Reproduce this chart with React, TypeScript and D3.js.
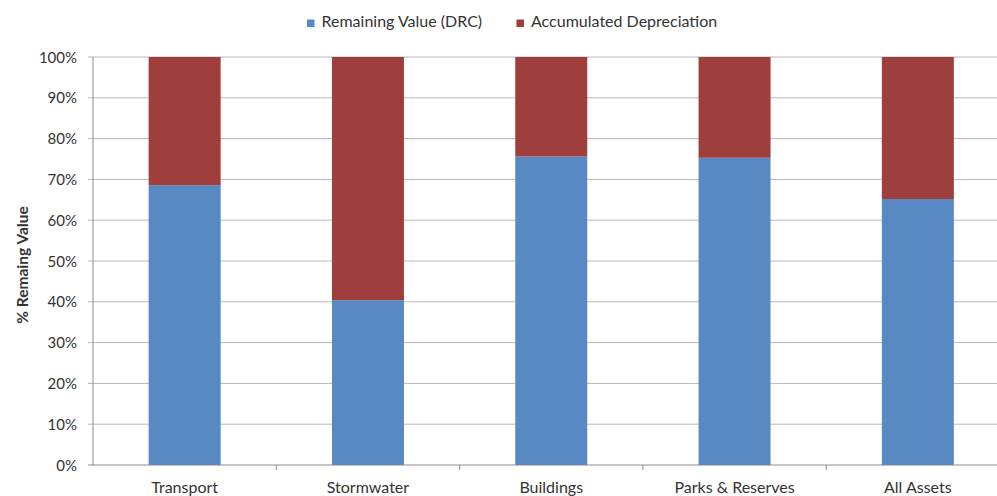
import React from 'react'
import * as d3 from 'd3'

const categories = ['Transport', 'Stormwater', 'Buildings', 'Parks & Reserves', 'All Assets']
const remaining = [0.686, 0.404, 0.756, 0.753, 0.652]
const depreciation = remaining.map(v => 1 - v)
const yTicks = [0, 0.1, 0.2, 0.3, 0.4, 0.5, 0.6, 0.7, 0.8, 0.9, 1]

const blue = '#5889c3'
const red = '#9e3f3e'
const font = 'Lato, "Open Sans", sans-serif'

export default function App() {
  const width = 997
  const height = 496
  const left = 93
  const top = 57
  const bottom = 465
  const band = 183.3

  const x = d3.scaleBand()
    .domain(categories)
    .range([left, left + band * categories.length])
  const y = d3.scaleLinear().domain([0, 1]).range([bottom, top])
  const barW = 72
  const fmt = d3.format('.0%')

  return (
    <svg width={width} height={height} style={{ position: 'absolute', left: 0, top: 0, background: '#fff' }}>
      {/* legend */}
      <g fontFamily={font} fontSize={16} fill="#333">
        <rect x={307} y={19.5} width={7.5} height={7.5} fill={blue} />
        <text x={321.5} y={26.5}>Remaining Value (DRC)</text>
        <rect x={516.5} y={19.5} width={7.5} height={7.5} fill={red} />
        <text x={531} y={26.5}>Accumulated Depreciation</text>
      </g>

      {/* grid */}
      {yTicks.map(t => (
        <line key={t} x1={left - 5} x2={width} y1={y(t)} y2={y(t)}
          stroke={t === 0 ? '#8c8c8c' : '#b8b8b8'} strokeWidth={1} />
      ))}
      <line x1={left} x2={left} y1={top} y2={bottom} stroke="#8c8c8c" />
      {categories.map((c, i) => (
        <line key={c} x1={left + band * (i + 1)} x2={left + band * (i + 1)} y1={bottom} y2={bottom + 5} stroke="#8c8c8c" />
      ))}

      {/* bars */}
      {categories.map((c, i) => {
        const cx = (x(c) as number) + x.bandwidth() / 2
        return (
          <g key={c}>
            <rect x={cx - barW / 2} y={y(remaining[i])} width={barW} height={bottom - y(remaining[i])} fill={blue} />
            <rect x={cx - barW / 2} y={y(1)} width={barW} height={y(remaining[i]) - y(remaining[i] + depreciation[i])} fill={red} />
          </g>
        )
      })}

      {/* y labels */}
      <g fontFamily={font} fontSize={15} fill="#333" textAnchor="end">
        {yTicks.map(t => (
          <text key={t} x={77} y={y(t) + 5.5}>{fmt(t)}</text>
        ))}
      </g>

      {/* x labels */}
      <g fontFamily={font} fontSize={16} fill="#333" textAnchor="middle">
        {categories.map(c => (
          <text key={c} x={(x(c) as number) + x.bandwidth() / 2} y={493}>{c}</text>
        ))}
      </g>

      <text transform={`translate(28,265) rotate(-90)`} textAnchor="middle"
        fontFamily={font} fontSize={15.5} fontWeight="bold" fill="#333">% Remaing Value</text>
    </svg>
  )
}
